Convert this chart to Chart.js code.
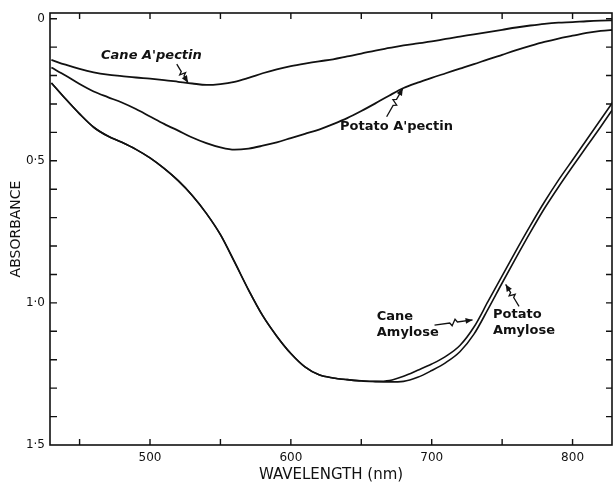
<!DOCTYPE html>
<html>
<head>
<meta charset="utf-8">
<script src="https://cdn.jsdelivr.net/npm/chart.js@4/dist/chart.umd.min.js"></script>
<style>
  html, body { margin: 0; padding: 0; background: #fff; }
  #wrap { width: 613px; height: 484px; }
</style>
</head>
<body>
<div id="wrap"><canvas id="grafico" width="613" height="484"></canvas></div>
<script>
// wavelength (nm) and absorbance
const wavelengths = [430, 440, 450, 460, 470, 480, 490, 500, 510, 520, 530, 540, 550, 560, 570, 580, 590, 600,
  610, 620, 630, 640, 650, 660, 670, 680, 690, 700, 710, 720, 730, 740, 750, 760, 770, 780, 790, 800, 810, 820, 830];

const caneApectin = [0.145, 0.162, 0.177, 0.189, 0.197, 0.202, 0.207, 0.211, 0.216, 0.222, 0.228, 0.233, 0.230, 0.222,
  0.208, 0.192, 0.178, 0.167, 0.158, 0.150, 0.143, 0.133, 0.123, 0.112, 0.103, 0.094, 0.087, 0.080, 0.071, 0.063,
  0.055, 0.047, 0.039, 0.031, 0.024, 0.018, 0.014, 0.012, 0.009, 0.007, 0.006];

const potatoApectin = [0.172, 0.200, 0.230, 0.256, 0.276, 0.295, 0.318, 0.344, 0.370, 0.394, 0.418, 0.438, 0.453, 0.461,
  0.457, 0.447, 0.435, 0.420, 0.405, 0.390, 0.371, 0.350, 0.325, 0.298, 0.270, 0.244, 0.225, 0.208, 0.192, 0.176,
  0.160, 0.143, 0.127, 0.111, 0.096, 0.082, 0.070, 0.060, 0.050, 0.043, 0.039];

const caneAmylose = [0.226, 0.282, 0.335, 0.382, 0.413, 0.435, 0.460, 0.490, 0.527, 0.570, 0.622, 0.685, 0.760, 0.856,
  0.955, 1.045, 1.117, 1.178, 1.225, 1.253, 1.264, 1.270, 1.274, 1.276, 1.273, 1.258, 1.237, 1.215, 1.188, 1.150,
  1.085, 0.995, 0.905, 0.815, 0.728, 0.645, 0.568, 0.497, 0.426, 0.355, 0.283];

const potatoAmylose = [0.226, 0.282, 0.335, 0.382, 0.413, 0.435, 0.460, 0.490, 0.527, 0.570, 0.622, 0.685, 0.760, 0.856,
  0.955, 1.045, 1.117, 1.178, 1.225, 1.253, 1.264, 1.270, 1.275, 1.277, 1.278, 1.276, 1.262, 1.238, 1.210, 1.172,
  1.110, 1.022, 0.930, 0.840, 0.752, 0.668, 0.592, 0.520, 0.450, 0.380, 0.308];

const xLabelTicks = [500, 600, 700, 800];
const xMinorTicks = [450, 500, 550, 600, 650, 700, 750, 800];
const yLabelTicks = [0, 0.5, 1.0, 1.5];
const yMinorTicks = [0, 0.1, 0.2, 0.3, 0.4, 0.5, 0.6, 0.7, 0.8, 0.9, 1.0, 1.1, 1.2, 1.3, 1.4];

// curve labels, placed in data units
const etiquetas = [
  { lines: ["Cane A'pectin"], x: 501, y: 0.130, align: "center", italic: true,
    arrow: { from: [519, 0.160], to: [527, 0.225] } },
  { lines: ["Potato A'pectin"], x: 675, y: 0.380, align: "center",
    arrow: { from: [668, 0.345], to: [679.5, 0.245] } },
  { lines: ["Cane", "Amylose"], x: 661, y: 1.048, align: "left",
    arrow: { from: [702, 1.078], to: [729, 1.060] } },
  { lines: ["Potato", "Amylose"], x: 743.5, y: 1.043, align: "left",
    arrow: { from: [762, 1.012], to: [752.5, 0.935] } }
];

const toPts = arr => wavelengths.map((w, i) => ({ x: w, y: arr[i] }));
const linea = (label, arr, w) => ({
  label, data: toPts(arr), borderColor: "#111", borderWidth: w,
  pointRadius: 0, tension: 0.35, cubicInterpolationMode: "monotone", fill: false
});

const marco = {
  id: "marco",
  afterDatasetsDraw(chart) {
    const { ctx, chartArea: a, scales: { x, y } } = chart;
    ctx.save();
    ctx.strokeStyle = "#111";
    ctx.lineWidth = 1.6;
    ctx.strokeRect(a.left, a.top, a.right - a.left, a.bottom - a.top);
    ctx.lineWidth = 1.4;
    ctx.beginPath();
    xMinorTicks.forEach(v => {
      const px = x.getPixelForValue(v);
      ctx.moveTo(px, a.bottom); ctx.lineTo(px, a.bottom - 6);
      ctx.moveTo(px, a.top); ctx.lineTo(px, a.top + 6);
    });
    yMinorTicks.forEach(v => {
      const py = y.getPixelForValue(v);
      ctx.moveTo(a.left, py); ctx.lineTo(a.left + 7, py);
      ctx.moveTo(a.right, py); ctx.lineTo(a.right - 6, py);
    });
    ctx.stroke();

    // labels and squiggly arrows
    ctx.fillStyle = "#111";
    ctx.textBaseline = "middle";
    etiquetas.forEach(e => {
      ctx.font = (e.italic ? "italic " : "") + "600 13px 'DejaVu Sans', sans-serif";
      ctx.textAlign = e.align;
      const tx = x.getPixelForValue(e.x), ty = y.getPixelForValue(e.y);
      e.lines.forEach((t, i) => ctx.fillText(t, tx, ty + i * 16));

      const x0 = x.getPixelForValue(e.arrow.from[0]), y0 = y.getPixelForValue(e.arrow.from[1]);
      const x1 = x.getPixelForValue(e.arrow.to[0]), y1 = y.getPixelForValue(e.arrow.to[1]);
      const dx = x1 - x0, dy = y1 - y0, len = Math.hypot(dx, dy);
      const ux = dx / len, uy = dy / len, nx = -uy, ny = ux;
      ctx.lineWidth = 1.3;
      ctx.beginPath();
      ctx.moveTo(x0, y0);
      const m1 = 0.4 * len, m2 = 0.55 * len;
      ctx.lineTo(x0 + ux * m1, y0 + uy * m1);
      ctx.lineTo(x0 + ux * (m1 + 2) + nx * 3, y0 + uy * (m1 + 2) + ny * 3);
      ctx.lineTo(x0 + ux * m2 - nx * 3, y0 + uy * m2 - ny * 3);
      ctx.lineTo(x0 + ux * (m2 + 2), y0 + uy * (m2 + 2));
      ctx.lineTo(x1, y1);
      ctx.stroke();
      ctx.beginPath();
      ctx.moveTo(x1, y1);
      ctx.lineTo(x1 - ux * 7 + nx * 3, y1 - uy * 7 + ny * 3);
      ctx.lineTo(x1 - ux * 7 - nx * 3, y1 - uy * 7 - ny * 3);
      ctx.closePath();
      ctx.fill();
    });
    ctx.restore();
  }
};

const fmtY = v => (v === 0 ? "0" : v.toFixed(1).replace(".", "·"));

new Chart(document.getElementById("grafico").getContext("2d"), {
  type: "line",
  data: {
    datasets: [
      linea("Cane A'pectin", caneApectin, 1.8),
      linea("Potato A'pectin", potatoApectin, 1.8),
      linea("Cane Amylose", caneAmylose, 1.6),
      linea("Potato Amylose", potatoAmylose, 1.6)
    ]
  },
  options: {
    responsive: false,
    animation: false,
    layout: { padding: { top: 13, right: 1, left: 0, bottom: 0 } },
    plugins: { legend: { display: false }, tooltip: { enabled: false } },
    scales: {
      x: {
        type: "linear", min: 429, max: 828,
        afterBuildTicks: s => { s.ticks = xLabelTicks.map(v => ({ value: v })); },
        afterFit: s => { s.height = 39; },
        grid: { display: false, drawTicks: false },
        border: { display: false },
        ticks: { padding: 6, color: "#111", font: { family: "'DejaVu Sans', sans-serif", size: 12 }, maxRotation: 0 },
        title: { display: true, text: "WAVELENGTH (nm)", color: "#111",
          font: { family: "'DejaVu Sans', sans-serif", size: 15 }, padding: { top: 0, bottom: 0 } }
      },
      y: {
        type: "linear", reverse: true, min: -0.02, max: 1.5,
        afterBuildTicks: s => { s.ticks = yLabelTicks.map(v => ({ value: v })); },
        afterFit: s => { s.width = 50; },
        grid: { display: false, drawTicks: false },
        border: { display: false },
        ticks: { padding: 5, color: "#111", font: { family: "'DejaVu Sans', sans-serif", size: 12 },
          callback: v => fmtY(v) },
        title: { display: true, text: "ABSORBANCE", color: "#111",
          font: { family: "'DejaVu Sans', sans-serif", size: 14 }, padding: { top: 8, bottom: 0 } }
      }
    }
  },
  plugins: [marco]
});
</script>
</body>
</html>
